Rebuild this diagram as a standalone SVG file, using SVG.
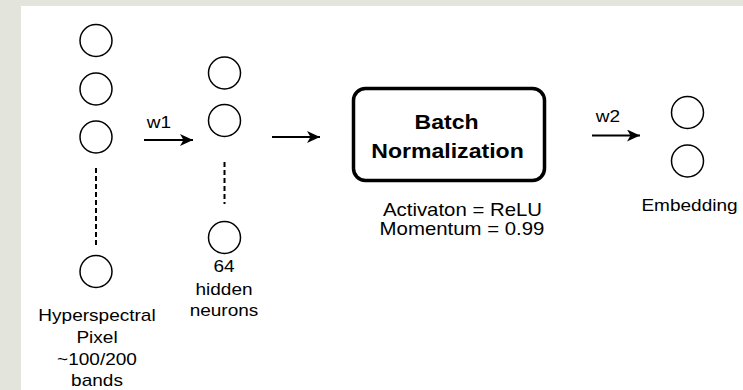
<svg xmlns="http://www.w3.org/2000/svg" width="743" height="390" viewBox="0 0 743 390">
  <defs>
    <marker id="arrow" markerUnits="userSpaceOnUse" markerWidth="14" markerHeight="12" viewBox="0 0 14 12" refX="13" refY="6" orient="auto">
      <path d="M0,0 L13,6 L0,12 L3.5,6 Z" fill="#000"/>
    </marker>
    <style>
      .neuron { fill: #fff; stroke: #000; stroke-width: 1.5; }
      .dots { stroke: #000; stroke-width: 2; stroke-dasharray: 5 3; fill: none; }
      .edge { stroke: #000; stroke-width: 2; fill: none; marker-end: url(#arrow); }
      text { font-family: "Liberation Sans", Arial, Helvetica, sans-serif; fill: #000; text-anchor: middle; }
      .lbl { font-size: 17px; }
      .note { font-size: 18.2px; }
      .title { font-size: 20.6px; font-weight: bold; }
    </style>
  </defs>

  <!-- page frame -->
  <rect x="0" y="0" width="743" height="390" fill="#e3e4db"/>
  <rect x="21" y="6" width="722" height="384" fill="#fff"/>

  <!-- input layer -->
  <g id="input-layer">
    <circle class="neuron" cx="96" cy="40.5" r="16"/>
    <circle class="neuron" cx="96" cy="89" r="16"/>
    <circle class="neuron" cx="96" cy="137" r="16"/>
    <line class="dots" x1="96" y1="168" x2="96" y2="248"/>
    <circle class="neuron" cx="96" cy="271.5" r="16"/>
    <text class="lbl" transform="translate(97 321) scale(1.12 1)">Hyperspectral</text>
    <text class="lbl" transform="translate(97 342.5) scale(1.12 1)">Pixel</text>
    <text class="lbl" transform="translate(97 365) scale(1.12 1)">~100/200</text>
    <text class="lbl" transform="translate(97 386) scale(1.12 1)">bands</text>
  </g>

  <!-- hidden layer -->
  <g id="hidden-layer">
    <circle class="neuron" cx="224.5" cy="73" r="16"/>
    <circle class="neuron" cx="224.5" cy="120.5" r="16"/>
    <line class="dots" x1="224.5" y1="162" x2="224.5" y2="204"/>
    <circle class="neuron" cx="224.5" cy="237.5" r="16"/>
    <text class="lbl" transform="translate(224 272) scale(1.12 1)">64</text>
    <text class="lbl" transform="translate(224 295) scale(1.12 1)">hidden</text>
    <text class="lbl" transform="translate(224 316) scale(1.12 1)">neurons</text>
  </g>

  <!-- batch normalization block -->
  <g id="batch-norm">
    <rect x="353.5" y="88.5" width="191" height="92" rx="12" ry="12" fill="#fff" stroke="#000" stroke-width="3.5"/>
    <text class="title" transform="translate(446.5 129) scale(1.12 1)">Batch</text>
    <text class="title" transform="translate(447.5 157.5) scale(1.12 1)">Normalization</text>
    <text class="note" transform="translate(462.5 215.5) scale(1.12 1)">Activaton = ReLU</text>
    <text class="note" transform="translate(462 234.5) scale(1.12 1)">Momentum = 0.99</text>
  </g>

  <!-- embedding layer -->
  <g id="embedding">
    <circle class="neuron" cx="687.5" cy="112.5" r="16"/>
    <circle class="neuron" cx="687.5" cy="161" r="16"/>
    <text class="lbl" transform="translate(689.5 211) scale(1.12 1)">Embedding</text>
  </g>

  <!-- connectors -->
  <g id="connectors">
    <line class="edge" x1="144" y1="140" x2="193" y2="140"/>
    <text class="lbl" transform="translate(159 128) scale(1.12 1)">w1</text>
    <line class="edge" x1="272" y1="137" x2="320" y2="137"/>
    <line class="edge" x1="592" y1="135.5" x2="640" y2="135.5"/>
    <text class="lbl" transform="translate(608 122) scale(1.12 1)">w2</text>
  </g>
</svg>
